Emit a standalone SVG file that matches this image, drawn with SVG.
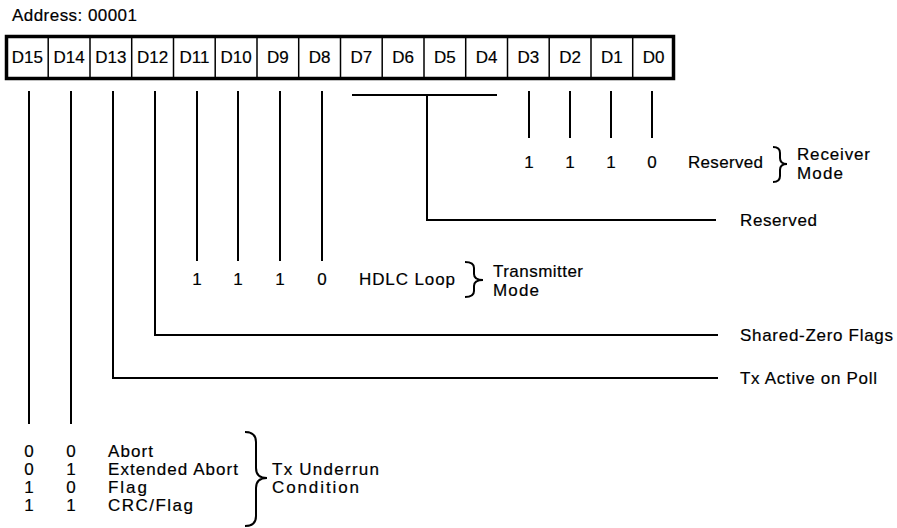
<svg xmlns="http://www.w3.org/2000/svg" width="897" height="528" viewBox="0 0 897 528">
<style>
text{font-family:"Liberation Sans",Arial,sans-serif;font-size:17px;fill:#000;stroke:#000;stroke-width:0.2}
.cell{text-anchor:middle;font-size:16px}
.num{text-anchor:middle}
.sm{font-size:15px}
.ln{fill:none;stroke:#000;stroke-width:2;stroke-linecap:square}
.br{fill:none;stroke:#000;stroke-width:2}
.div{stroke:#000;stroke-width:1.5}
</style>
<rect width="897" height="528" fill="#fff"/>
<g id="address"><text x="12" y="21" textLength="125">Address: 00001</text></g>
<g id="register">
<rect x="6.5" y="36.5" width="667" height="42" fill="#fff" stroke="#000" stroke-width="3.5"/>
<g class="div">
<line x1="48.2" y1="37" x2="48.2" y2="78"/><line x1="90" y1="37" x2="90" y2="78"/><line x1="131.7" y1="37" x2="131.7" y2="78"/><line x1="173.5" y1="37" x2="173.5" y2="78"/><line x1="215.2" y1="37" x2="215.2" y2="78"/><line x1="257" y1="37" x2="257" y2="78"/><line x1="298.7" y1="37" x2="298.7" y2="78"/><line x1="340.5" y1="37" x2="340.5" y2="78"/><line x1="382.2" y1="37" x2="382.2" y2="78"/><line x1="424" y1="37" x2="424" y2="78"/><line x1="465.7" y1="37" x2="465.7" y2="78"/><line x1="507.5" y1="37" x2="507.5" y2="78"/><line x1="549.2" y1="37" x2="549.2" y2="78"/><line x1="591" y1="37" x2="591" y2="78"/><line x1="632.7" y1="37" x2="632.7" y2="78"/>
</g>
<g class="cell">
<text x="27.4" y="63">D15</text><text x="69.1" y="63">D14</text><text x="110.9" y="63">D13</text><text x="152.6" y="63">D12</text><text x="194.4" y="63">D11</text><text x="236.1" y="63">D10</text><text x="277.9" y="63">D9</text><text x="319.6" y="63">D8</text><text x="361.4" y="63">D7</text><text x="403.1" y="63">D6</text><text x="444.9" y="63">D5</text><text x="486.6" y="63">D4</text><text x="528.4" y="63">D3</text><text x="570.1" y="63">D2</text><text x="611.9" y="63">D1</text><text x="653.6" y="63">D0</text>
</g>
</g>
<g id="connectors" class="ln">
<line x1="29" y1="92" x2="29" y2="423"/>
<line x1="71" y1="92" x2="71" y2="423"/>
<polyline points="113,92 113,378 717,378"/>
<polyline points="155,92 155,335 717,335"/>
<line x1="197" y1="92" x2="197" y2="260"/>
<line x1="238" y1="92" x2="238" y2="260"/>
<line x1="280" y1="92" x2="280" y2="260"/>
<line x1="322" y1="92" x2="322" y2="260"/>
<line x1="353" y1="95" x2="496" y2="95"/>
<polyline points="427,95 427,220 715,220"/>
<line x1="529" y1="92" x2="529" y2="137"/>
<line x1="570" y1="92" x2="570" y2="137"/>
<line x1="611" y1="92" x2="611" y2="137"/>
<line x1="652" y1="92" x2="652" y2="137"/>
</g>
<g id="receiver-mode">
<g class="num"><text x="529" y="168">1</text><text x="570" y="168">1</text><text x="611" y="168">1</text><text x="652" y="168">0</text></g>
<text x="688" y="168" textLength="75">Reserved</text>
<path class="br" d="M773,147 Q780,147 780,153 L780,158 Q780,164 787,164 Q780,164 780,170 L780,176 Q780,182 773,182"/>
<text x="797" y="160" textLength="73">Receiver</text>
<text x="797" y="179" textLength="46">Mode</text>
</g>
<g id="reserved-d7-d4"><text x="740" y="226" textLength="77">Reserved</text></g>
<g id="transmitter-mode">
<g class="num"><text x="197" y="285">1</text><text x="238" y="285">1</text><text x="280" y="285">1</text><text x="322" y="285">0</text></g>
<text x="359" y="285" textLength="96">HDLC Loop</text>
<path class="br" d="M465,262 Q474,262 474,268 L474,274 Q474,280 483,280 Q474,280 474,286 L474,291 Q474,297 465,297"/>
<text x="493" y="277" textLength="90">Transmitter</text>
<text x="493" y="296" textLength="46">Mode</text>
</g>
<g id="shared-zero-flags"><text x="740" y="341" textLength="153">Shared-Zero Flags</text></g>
<g id="tx-active-on-poll"><text x="740" y="384" textLength="137">Tx Active on Poll</text></g>
<g id="tx-underrun" class="sm">
<g class="num">
<text x="29" y="457">0</text><text x="71" y="457">0</text>
<text x="29" y="475">0</text><text x="71" y="475">1</text>
<text x="29" y="493">1</text><text x="71" y="493">0</text>
<text x="29" y="511">1</text><text x="71" y="511">1</text>
</g>
<text x="108" y="457" textLength="45">Abort</text>
<text x="108" y="475" textLength="130">Extended Abort</text>
<text x="108" y="493" textLength="39">Flag</text>
<text x="108" y="511" textLength="85">CRC/Flag</text>
<path class="br" d="M245,432 Q256,432 256,442 L256,468 Q256,478 267,478 Q256,478 256,488 L256,516 Q256,526 245,526"/>
<text x="272" y="475" textLength="107">Tx Underrun</text>
<text x="272" y="493" textLength="87">Condition</text>
</g>
</svg>
